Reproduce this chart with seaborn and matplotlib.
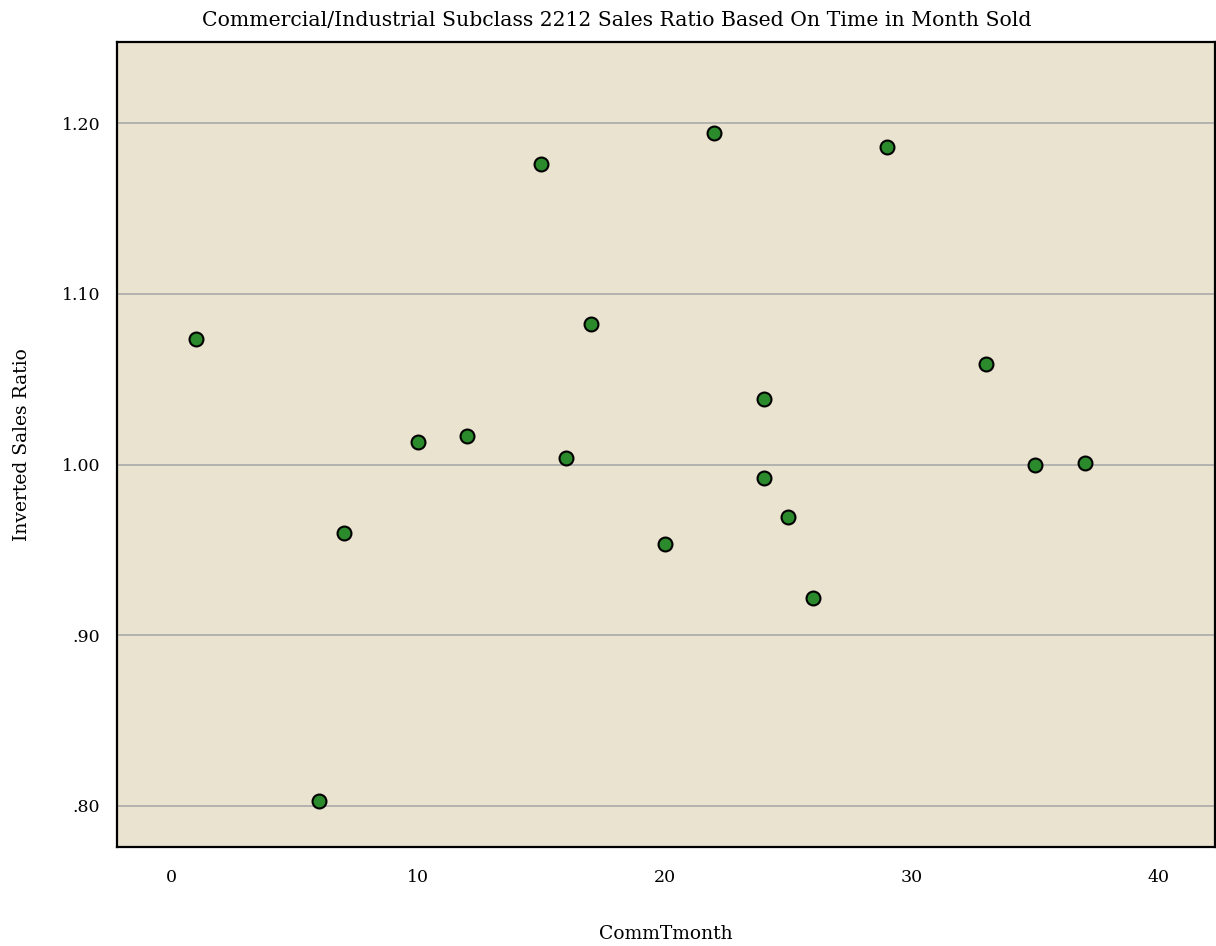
import matplotlib
matplotlib.use("Agg")
import matplotlib.pyplot as plt
import seaborn as sns
import pandas as pd

months = [1, 6, 7, 10, 12, 15, 16, 17, 20, 22, 24, 24, 25, 26, 29, 33, 35, 37]
ratios = [1.0735, 0.803, 0.960, 1.013, 1.0165, 1.176, 1.004, 1.0825, 0.9535,
          1.194, 1.0385, 0.992, 0.969, 0.922, 1.186, 1.059, 1.000, 1.001]
x_ticks = [0, 10, 20, 30, 40]
y_ticks = [0.80, 0.90, 1.00, 1.10, 1.20]
y_tick_labels = [".80", ".90", "1.00", "1.10", "1.20"]

df = pd.DataFrame({"CommTmonth": months, "Inverted Sales Ratio": ratios})

sns.set_style("white")
plt.rcParams['font.family'] = ['DejaVu Serif']
plt.rcParams['text.color'] = 'black'
plt.rcParams['axes.labelcolor'] = 'black'

fig = plt.figure(figsize=(12.16, 9.46), dpi=100)
ax = fig.add_axes([0.0962, 0.1047, 0.9028, 0.8509])
ax.set_facecolor("#EAE3CF")

sns.scatterplot(data=df, x="CommTmonth", y="Inverted Sales Ratio", ax=ax,
                color="#2B8A2B", edgecolor="black", linewidth=1.5, s=100, zorder=3)

ax.set_xlim(-2.19, 42.27)
ax.set_ylim(0.776, 1.2475)
ax.set_xticks(x_ticks)
ax.set_yticks(y_ticks)
ax.set_yticklabels(y_tick_labels)
ax.yaxis.grid(True, color="#AAAAAA", linewidth=1.2)
ax.xaxis.grid(False)
ax.set_axisbelow(True)
ax.tick_params(axis="both", length=0, labelsize=12.5, colors="black")
ax.tick_params(axis="x", pad=16)
ax.tick_params(axis="y", pad=12)
for side in ["left", "bottom", "top", "right"]:
    ax.spines[side].set_visible(True)
    ax.spines[side].set_color("black")
    ax.spines[side].set_linewidth(1.6)

ax.set_xlabel("CommTmonth", fontsize=13.5, labelpad=28, color="black")
ax.set_ylabel("Inverted Sales Ratio", fontsize=13.5, labelpad=22, color="black")
fig.suptitle("Commercial/Industrial Subclass 2212 Sales Ratio Based On Time in Month Sold",
             x=0.507, y=0.9885, fontsize=14.7, va="top", color="black")

fig.savefig("out.png", dpi=100)
